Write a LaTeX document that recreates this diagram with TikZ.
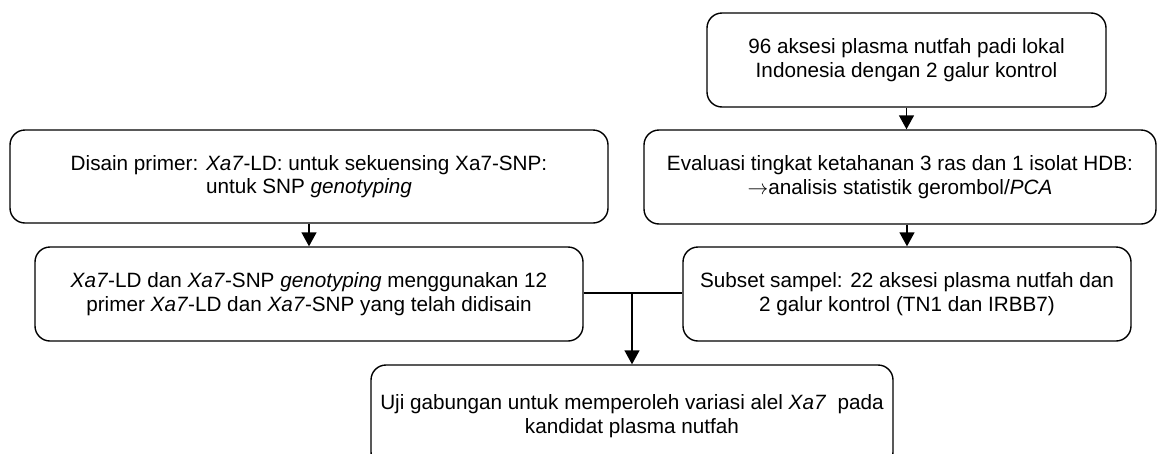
\documentclass[tikz,border=0pt]{standalone}
\usepackage{fontspec}
\setmainfont{Liberation Sans}
\usetikzlibrary{arrows.meta}
\begin{document}
\begin{tikzpicture}[x=1pt,y=-1pt,
  box/.style={draw=black, line width=1.4pt, rounded corners=15pt, align=center,
    font=\fontsize{20.7}{23.5}\selectfont, inner sep=0pt},
  arr/.style={line width=1.4pt, -{Triangle[length=14pt,width=15pt]}},
  conn/.style={line width=1.4pt}]
\clip (0,0) rectangle (1157,453);
\fill[white] (0,0) rectangle (1157,453);
\node[box, minimum width=399pt, minimum height=94pt] (A) at (906.5,60)
  {96 aksesi plasma nutfah padi lokal\\Indonesia dengan 2 galur kontrol};
\node[box, minimum width=512pt, minimum height=94pt] (B) at (900,177)
  {Evaluasi tingkat ketahanan 3 ras dan 1 isolat HDB:\\$\rightarrow$analisis statistik gerombol/\textit{PCA}};
\node[box, minimum width=598pt, minimum height=93pt] (C) at (309,176.5)
  {Disain primer: \textit{Xa7}-LD: untuk sekuensing Xa7-SNP:\\untuk SNP \textit{genotyping}};
\node[box, minimum width=548pt, minimum height=94pt] (D) at (309,294)
  {\textit{Xa7}-LD dan \textit{Xa7}-SNP \textit{genotyping} menggunakan 12\\primer \textit{Xa7}-LD dan \textit{Xa7}-SNP yang telah didisain};
\node[box, minimum width=448pt, minimum height=94pt] (E) at (907,294)
  {Subset sampel: 22 aksesi plasma nutfah dan\\2 galur kontrol (TN1 dan IRBB7)};
\node[box, minimum width=522pt, minimum height=102pt] (F) at (632,416)
  {Uji gabungan untuk memperoleh variasi alel \textit{Xa7}\ \ pada\\kandidat plasma nutfah};
\coordinate (J) at (632,293);
\draw[arr] (A.south) -- (A.south |- B.north);
\draw[arr] (E.north |- B.south) -- (E.north);
\draw[arr] (C.south) -- (D.north);
\draw[conn] (D.east |- J) -- (J) -- (E.west |- J);
\draw[arr] (J) -- (F.north);
\end{tikzpicture}
\end{document}
